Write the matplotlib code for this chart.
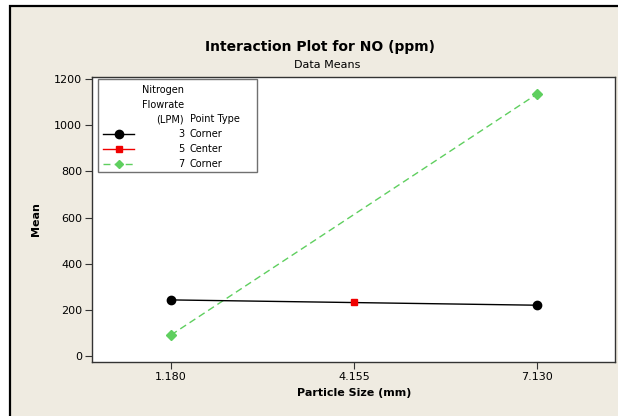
import matplotlib
matplotlib.use("Agg")
import matplotlib.pyplot as plt
from matplotlib.patches import Rectangle
from matplotlib.lines import Line2D

# Interaction data: mean NO (ppm) by particle size, grouped by nitrogen flowrate
tick_positions = [1.180, 4.155, 7.130]
tick_labels = ["1.180", "4.155", "7.130"]

flow_3_size = [1.180, 7.130]
flow_3_mean = [243, 220]
flow_5_size = [4.155]
flow_5_mean = [236]
flow_7_size = [1.180, 7.130]
flow_7_mean = [91, 1135]

flow_labels = ["3", "5", "7"]
point_types = ["Corner", "Center", "Corner"]
y_ticks = [0, 200, 400, 600, 800, 1000, 1200]

BG = "#EFEBE1"
GREEN = "#5FCF5F"
RED = "#F00000"
W, H = 618, 416

plt.rcParams["font.family"] = ["DejaVu Sans"]


def fx(px):
    return px / W


def fy(py):
    return 1 - py / H


fig = plt.figure(figsize=(W / 100, H / 100), dpi=100, facecolor="white")

# outer panel with black frame
fig.add_artist(Rectangle((fx(10), -0.2), 1.3, fy(6) + 0.2,
                         transform=fig.transFigure, facecolor=BG,
                         edgecolor="black", lw=1.6, zorder=-10))

ax = fig.add_axes([fx(92), fy(362), fx(615) - fx(92), (362 - 77) / H])
ax.set_facecolor("white")

styles = [
    dict(color="black", marker="o", ls="-", lw=1.0, ms=6.0, mec="black", mfc="black"),
    dict(color=RED, marker="s", ls="-", lw=1.0, ms=5.0, mec=RED, mfc=RED),
    dict(color=GREEN, marker="D", ls=(0, (5, 3)), lw=1.0, ms=5.0, mec=GREEN, mfc=GREEN),
]

ax.plot(flow_3_size, flow_3_mean, **styles[0], zorder=4)
ax.plot(flow_5_size, flow_5_mean, **styles[1], zorder=5)
ax.plot(flow_7_size, flow_7_mean, **styles[2], zorder=3)

ax.set_xlim(-0.104, 8.398)
ax.set_ylim(-26, 1208.7)
ax.set_xticks(tick_positions)
ax.set_xticklabels(tick_labels)
ax.set_yticks(y_ticks)
ax.tick_params(axis="both", direction="out", length=5, width=0.8,
               color="#333333", labelsize=8, pad=2)
for side in ["top", "right", "bottom", "left"]:
    ax.spines[side].set_color("#333333")
    ax.spines[side].set_linewidth(1.0)

# titles and axis labels
fig.text(fx(320), fy(47), "Interaction Plot for NO (ppm)", ha="center",
         va="center", fontsize=10, fontweight="bold")
fig.text(fx(327), fy(65), "Data Means", ha="center", va="center", fontsize=8)
fig.text(fx(354), fy(393), "Particle Size (mm)", ha="center", va="center",
         fontsize=8, fontweight="bold")
fig.text(fx(36), fy(219), "Mean", ha="center", va="center", rotation=90,
         fontsize=8, fontweight="bold")

# legend panel
fig.add_artist(Rectangle((fx(98), fy(172)), fx(257) - fx(98), (172 - 79) / H,
                         transform=fig.transFigure, facecolor="white",
                         edgecolor="#707070", lw=1.0, zorder=6))
lfs = 7
for txt, py in [("Nitrogen", 90), ("Flowrate", 105), ("(LPM)", 119)]:
    fig.text(fx(184), fy(py), txt, ha="right", va="center", fontsize=lfs, zorder=7)
fig.text(fx(190), fy(119), "Point Type", ha="left", va="center", fontsize=lfs, zorder=7)
for i, (lab, ptype, py) in enumerate(zip(flow_labels, point_types, [134, 149, 164])):
    st = dict(styles[i])
    if i > 0:
        st["ms"] = st["ms"] * 0.9
    fig.add_artist(Line2D([fx(103), fx(134)], [fy(py), fy(py)],
                          transform=fig.transFigure, zorder=7,
                          **{k: v for k, v in st.items() if k != "marker"},
                          marker=None))
    fig.add_artist(Line2D([fx(118.5)], [fy(py)], transform=fig.transFigure,
                          zorder=8, ls="none", marker=st["marker"], ms=st["ms"],
                          mec=st["mec"], mfc=st["mfc"]))
    fig.text(fx(184), fy(py), lab, ha="right", va="center", fontsize=lfs, zorder=7)
    fig.text(fx(190), fy(py), ptype, ha="left", va="center", fontsize=lfs, zorder=7)

fig.savefig("out.png", dpi=100, facecolor=fig.get_facecolor())
